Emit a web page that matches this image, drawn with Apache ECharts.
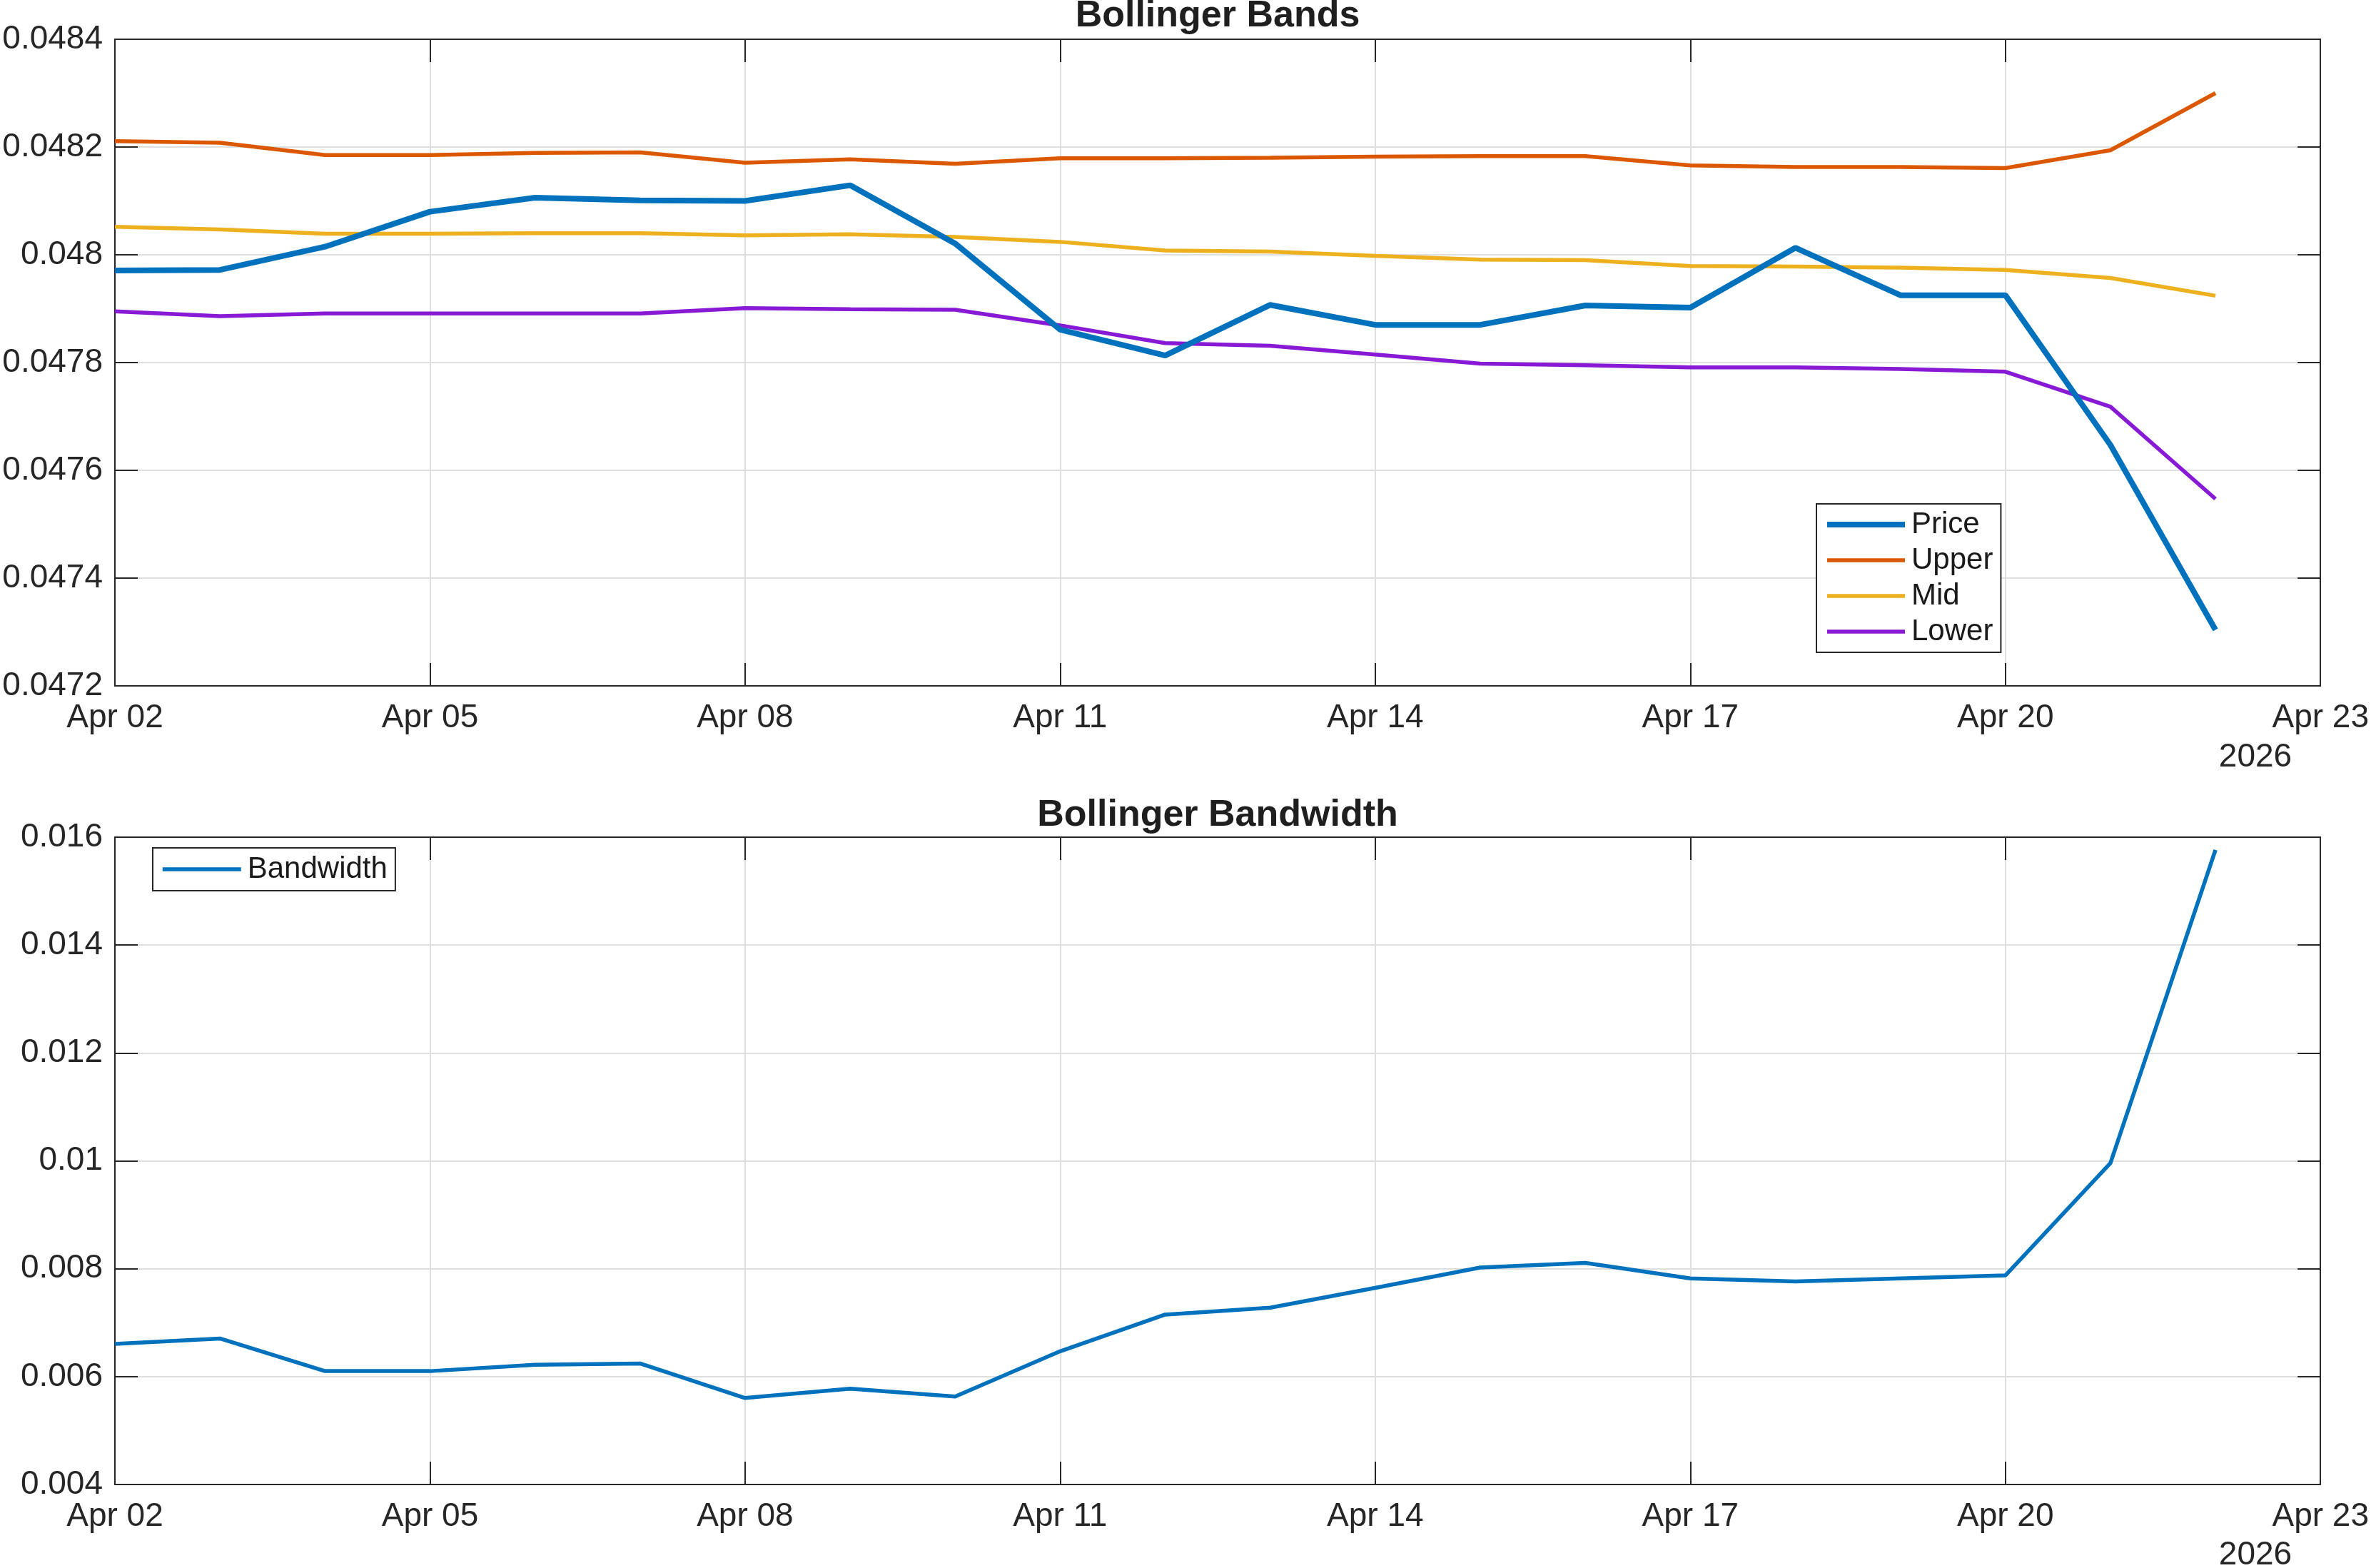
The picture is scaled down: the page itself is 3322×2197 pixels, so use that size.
<!DOCTYPE html>
<html>
<head>
<meta charset="utf-8">
<script src="https://cdn.jsdelivr.net/npm/echarts@6/dist/echarts.min.js"></script>
<style>
  html, body { margin: 0; padding: 0; background: #fff; }
  #main { width: 3322px; height: 2197px; }
</style>
</head>
<body>
<div id="main"></div>
<script>
// daily points, Apr 02 .. Apr 22 (2026)
var dates = ['Apr 02', 'Apr 03', 'Apr 04', 'Apr 05', 'Apr 06', 'Apr 07', 'Apr 08', 'Apr 09', 'Apr 10', 'Apr 11',
  'Apr 12', 'Apr 13', 'Apr 14', 'Apr 15', 'Apr 16', 'Apr 17', 'Apr 18', 'Apr 19', 'Apr 20', 'Apr 21', 'Apr 22'];

var price = [0.047971, 0.047972, 0.048015, 0.048080, 0.048106, 0.048101, 0.048100, 0.048129, 0.048021, 0.047861,
  0.047813, 0.047907, 0.047870, 0.047870, 0.047906, 0.047902, 0.048013, 0.047925, 0.047925, 0.047647, 0.047304];
var upper = [0.048211, 0.048208, 0.048185, 0.048185, 0.048189, 0.048190, 0.048171, 0.048177, 0.048169, 0.048179,
  0.048179, 0.048180, 0.048182, 0.048183, 0.048183, 0.048166, 0.048163, 0.048163, 0.048161, 0.048194, 0.048300];
var mid = [0.048052, 0.048047, 0.048039, 0.048039, 0.048040, 0.048040, 0.048036, 0.048038, 0.048033, 0.048024,
  0.048008, 0.048006, 0.047998, 0.047991, 0.047990, 0.047979, 0.047978, 0.047976, 0.047972, 0.047957, 0.047924];
var lower = [0.047895, 0.047886, 0.047891, 0.047891, 0.047891, 0.047891, 0.047901, 0.047899, 0.047898, 0.047869,
  0.047836, 0.047831, 0.047815, 0.047798, 0.047795, 0.047791, 0.047791, 0.047788, 0.047783, 0.047718, 0.047547];
var bandwidth = [0.006606, 0.006707, 0.006102, 0.006102, 0.006218, 0.006243, 0.005604, 0.005775, 0.005630, 0.006470,
  0.007150, 0.007277, 0.007644, 0.008022, 0.008107, 0.007820, 0.007764, 0.007820, 0.007876, 0.009959, 0.015764];

var FONT = '"Liberation Sans", Arial, Helvetica, sans-serif';
var AX = '#262626';

// x is days since Apr 02
function pts(arr) {
  return arr.map(function (v, i) { return [i, v]; });
}
function dayLabel(v) {
  var d = 2 + Math.round(v);
  return 'Apr ' + (d < 10 ? '0' + d : d);
}
function numLabel(v) {
  return String(parseFloat(v.toFixed(6)));
}

function xAxes(grid) {
  var common = {
    type: 'value', gridIndex: grid, min: 0, max: 21, interval: 3,
    axisLine: { show: true, onZero: false, lineStyle: { color: AX, width: 2 } },
    axisTick: { show: true, inside: true, length: 32, lineStyle: { color: AX, width: 2 } }
  };
  return [
    Object.assign({}, common, {
      position: 'bottom',
      axisLabel: { formatter: dayLabel, fontSize: 46, fontFamily: FONT, color: AX, margin: 22 },
      splitLine: { show: true, lineStyle: { color: '#dfdfdf', width: 2 } }
    }),
    Object.assign({}, common, {
      position: 'top',
      axisLabel: { show: false },
      splitLine: { show: false }
    })
  ];
}

function yAxes(grid, min, max, step) {
  var common = {
    type: 'value', gridIndex: grid, min: min, max: max, interval: step,
    axisLine: { show: true, onZero: false, lineStyle: { color: AX, width: 2 } },
    axisTick: { show: true, inside: true, length: 32, lineStyle: { color: AX, width: 2 } }
  };
  return [
    Object.assign({}, common, {
      position: 'left',
      axisLabel: { formatter: numLabel, fontSize: 46, fontFamily: FONT, color: AX, margin: 17 },
      splitLine: { show: true, lineStyle: { color: '#dfdfdf', width: 2 } }
    }),
    Object.assign({}, common, {
      position: 'right',
      axisLabel: { show: false },
      splitLine: { show: false }
    })
  ];
}

function lineSeries(name, arr, color, width, xi, yi) {
  return {
    name: name, type: 'line', data: pts(arr),
    xAxisIndex: xi, yAxisIndex: yi,
    symbol: 'none', silent: true, animation: false,
    lineStyle: { color: color, width: width },
    itemStyle: { color: color }
  };
}

var legendText = { fontSize: 42, lineHeight: 42, fontFamily: FONT, color: '#1a1a1a', padding: [0, 0, 0, 4] };

var chart = echarts.init(document.getElementById('main'));

var option = {
  backgroundColor: '#fff',
  animation: false,
  grid: [
    { left: 161, top: 55, width: 3091, height: 906 },
    { left: 161, top: 1173, width: 3091, height: 907 }
  ],
  xAxis: xAxes(0).concat(xAxes(1)),
  yAxis: yAxes(0, 0.0472, 0.0484, 0.0002).concat(yAxes(1, 0.004, 0.016, 0.002)),
  legend: [
    {
      data: [
        { name: 'Price', lineStyle: { width: 8 } },
        { name: 'Upper', lineStyle: { width: 5.5 } },
        { name: 'Mid', lineStyle: { width: 5.5 } },
        { name: 'Lower', lineStyle: { width: 5.5 } }
      ],
      orient: 'vertical', left: 2545, top: 706,
      backgroundColor: '#fff', borderColor: AX, borderWidth: 2, borderRadius: 0,
      padding: [8, 11, 8, 11],
      itemWidth: 109, itemHeight: 14, itemGap: 8,
      itemStyle: { opacity: 0 },
      selectedMode: false,
      textStyle: legendText
    },
    {
      data: [{ name: 'Bandwidth', lineStyle: { width: 5.5 } }],
      orient: 'vertical', left: 214, top: 1188,
      backgroundColor: '#fff', borderColor: AX, borderWidth: 2, borderRadius: 0,
      padding: [9, 11, 9, 11],
      itemWidth: 110, itemHeight: 14,
      itemStyle: { opacity: 0 },
      selectedMode: false,
      textStyle: legendText
    }
  ],
  graphic: [
    { type: 'text', x: 1706, y: 23, style: { text: 'Bollinger Bands', fontSize: 52, fontWeight: 'bold', fontFamily: FONT, fill: '#1f1f1f', align: 'center', verticalAlign: 'middle' } },
    { type: 'text', x: 1706, y: 1143, style: { text: 'Bollinger Bandwidth', fontSize: 52, fontWeight: 'bold', fontFamily: FONT, fill: '#1f1f1f', align: 'center', verticalAlign: 'middle' } },
    { type: 'text', x: 3160, y: 1061, style: { text: '2026', fontSize: 46, fontFamily: FONT, fill: AX, align: 'center', verticalAlign: 'middle' } },
    { type: 'text', x: 3160, y: 2179, style: { text: '2026', fontSize: 46, fontFamily: FONT, fill: AX, align: 'center', verticalAlign: 'middle' } }
  ],
  series: [
    lineSeries('Upper', upper, '#DC5800', 5.5, 0, 0),
    lineSeries('Mid', mid, '#EDB120', 5.5, 0, 0),
    lineSeries('Lower', lower, '#8819D4', 5.5, 0, 0),
    lineSeries('Price', price, '#0072BD', 8, 0, 0),
    lineSeries('Bandwidth', bandwidth, '#0072BD', 5.5, 2, 2)
  ]
};

chart.setOption(option);
</script>
</body>
</html>
